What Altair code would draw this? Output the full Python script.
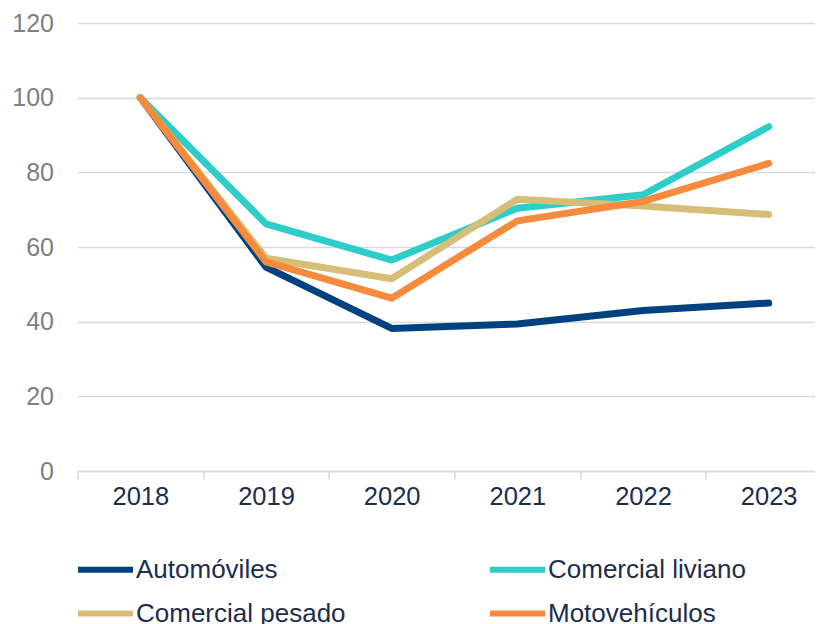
import altair as alt
import pandas as pd

years = ["2018", "2019", "2020", "2021", "2022", "2023"]
series_names = ["Automóviles", "Comercial liviano", "Comercial pesado", "Motovehículos"]
automoviles = [100, 54.6, 38.2, 39.4, 43.0, 45.0]
comercial_liviano = [100, 66.2, 56.5, 70.4, 74.0, 92.2]
comercial_pesado = [100, 57.0, 51.5, 72.8, 71.0, 68.7]
motovehiculos = [100, 56.0, 46.3, 67.0, 72.2, 82.4]
colors = ["#00427f", "#2ecdca", "#d7be78", "#f68b3d"]

rows = []
for name, vals in zip(series_names, [automoviles, comercial_liviano, comercial_pesado, motovehiculos]):
    for y, v in zip(years, vals):
        rows.append({"anio": y, "valor": v, "serie": name})
df = pd.DataFrame(rows)

FONT = "Liberation Sans, Arial, sans-serif"

chart = alt.Chart(df).mark_line(
    strokeWidth=7, strokeCap="round", strokeJoin="round"
).encode(
    x=alt.X(
        "anio:O",
        sort=years,
        scale=alt.Scale(range=[0, 754], paddingInner=0, paddingOuter=0),
        axis=alt.Axis(
            title=None, labelAngle=0, labelFont=FONT, labelFontSize=25.5,
            labelColor="#1d2d4c", domainColor="#d9d9d9", domainWidth=1.5,
            tickColor="#d9d9d9", tickWidth=1.5, tickSize=8, tickBand="extent",
            labelPadding=5, grid=False,
        ),
    ),
    y=alt.Y(
        "valor:Q",
        scale=alt.Scale(domain=[0, 120], nice=False),
        axis=alt.Axis(
            title=None, values=[0, 20, 40, 60, 80, 100, 120], labelFont=FONT,
            labelFontSize=25, labelColor="#7f7f7f", domain=False, ticks=False,
            labelPadding=24, gridColor="#d9d9d9", gridWidth=1.5,
        ),
    ),
    color=alt.Color(
        "serie:N",
        title=None,
        scale=alt.Scale(domain=series_names, range=colors),
        legend=alt.Legend(
            orient="none", legendX=-2.5, legendY=516, direction="horizontal",
            columns=2, symbolType="stroke", symbolSize=3025, symbolStrokeWidth=6,
            labelFont=FONT, labelFontSize=26, labelColor="#1d2d4c", labelLimit=400,
            columnPadding=132, rowPadding=-20, labelOffset=0,
        ),
    ),
).properties(
    width=737.5,
    height=448,
    autosize=alt.AutoSizeParams(type="none"),
    padding={"left": 69.5, "top": 15, "right": 0, "bottom": 153},
).configure_view(stroke=None)

chart.save("out.html", embed_options={"renderer": "svg", "actions": False})
